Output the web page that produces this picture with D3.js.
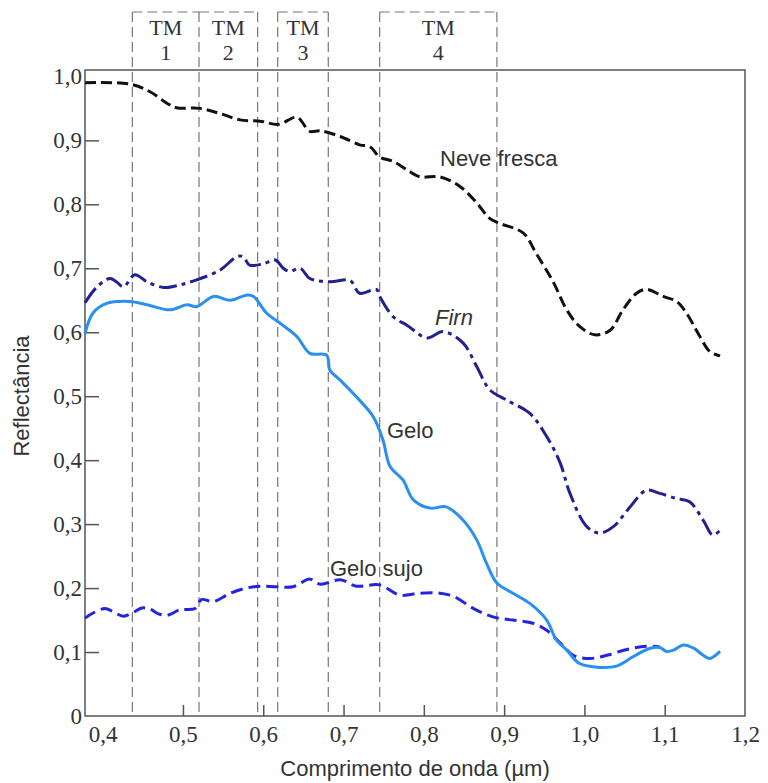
<!DOCTYPE html>
<html>
<head>
<meta charset="utf-8">
<script src="https://cdn.jsdelivr.net/npm/d3@7"></script>
<style>
    body { margin: 0; background: #fff; }
    .tick text { font-family: "Liberation Serif", "DejaVu Serif", serif; font-size: 23px; fill: #333; }
    .lbl { font-family: "Liberation Sans", Arial, sans-serif; font-size: 22px; fill: #333; }
</style>
</head>
<body>
<div id="chart"></div>
<script>
// comprimento de onda (µm) / reflectância
var neveWl = [0.378, 0.434, 0.459, 0.480, 0.492, 0.521, 0.546, 0.571, 0.596, 0.619, 0.642, 0.658, 0.671, 0.696, 0.720, 0.733, 0.745, 0.762, 0.779, 0.795, 0.820, 0.845, 0.866, 0.882, 0.895, 0.924, 0.940, 0.961, 0.978, 0.994, 1.013, 1.032, 1.048, 1.065, 1.077, 1.098, 1.115, 1.127, 1.144, 1.156, 1.169];
var neveRf = [0.990, 0.988, 0.976, 0.958, 0.951, 0.950, 0.942, 0.932, 0.930, 0.925, 0.936, 0.914, 0.915, 0.906, 0.893, 0.890, 0.874, 0.867, 0.854, 0.843, 0.843, 0.828, 0.802, 0.778, 0.770, 0.755, 0.723, 0.679, 0.635, 0.609, 0.596, 0.603, 0.635, 0.661, 0.667, 0.656, 0.648, 0.630, 0.593, 0.570, 0.563];

var firnWl = [0.378, 0.393, 0.409, 0.417, 0.426, 0.440, 0.455, 0.476, 0.496, 0.517, 0.546, 0.567, 0.575, 0.583, 0.600, 0.615, 0.625, 0.633, 0.646, 0.658, 0.683, 0.708, 0.720, 0.741, 0.745, 0.762, 0.779, 0.804, 0.824, 0.849, 0.866, 0.882, 0.903, 0.932, 0.953, 0.970, 0.982, 1.003, 1.019, 1.036, 1.057, 1.077, 1.094, 1.115, 1.131, 1.148, 1.160, 1.171];
var firnRf = [0.646, 0.671, 0.684, 0.679, 0.671, 0.690, 0.679, 0.670, 0.674, 0.682, 0.697, 0.718, 0.718, 0.705, 0.707, 0.713, 0.700, 0.695, 0.700, 0.684, 0.679, 0.681, 0.661, 0.667, 0.656, 0.624, 0.611, 0.591, 0.601, 0.583, 0.546, 0.510, 0.494, 0.473, 0.437, 0.395, 0.348, 0.296, 0.286, 0.296, 0.327, 0.353, 0.348, 0.340, 0.335, 0.306, 0.283, 0.293];

var geloWl = [0.378, 0.388, 0.405, 0.434, 0.455, 0.484, 0.505, 0.517, 0.538, 0.559, 0.579, 0.588, 0.604, 0.621, 0.642, 0.658, 0.679, 0.683, 0.696, 0.716, 0.737, 0.749, 0.758, 0.774, 0.787, 0.808, 0.828, 0.849, 0.866, 0.878, 0.891, 0.911, 0.932, 0.953, 0.965, 0.978, 0.994, 1.019, 1.040, 1.061, 1.082, 1.094, 1.102, 1.111, 1.123, 1.136, 1.148, 1.156, 1.169];
var geloRf = [0.598, 0.630, 0.645, 0.648, 0.643, 0.635, 0.643, 0.640, 0.656, 0.650, 0.658, 0.656, 0.630, 0.614, 0.593, 0.567, 0.564, 0.541, 0.525, 0.499, 0.468, 0.432, 0.390, 0.369, 0.338, 0.325, 0.327, 0.306, 0.275, 0.239, 0.208, 0.192, 0.176, 0.150, 0.119, 0.103, 0.082, 0.076, 0.078, 0.093, 0.106, 0.107, 0.101, 0.103, 0.111, 0.106, 0.095, 0.090, 0.101];

var sujoWl = [0.378, 0.388, 0.403, 0.413, 0.426, 0.438, 0.449, 0.459, 0.471, 0.482, 0.496, 0.515, 0.523, 0.538, 0.559, 0.579, 0.596, 0.617, 0.637, 0.658, 0.671, 0.696, 0.716, 0.745, 0.770, 0.795, 0.820, 0.837, 0.862, 0.886, 0.911, 0.936, 0.953, 0.970, 0.986, 1.007, 1.028, 1.053, 1.077, 1.094];
var sujoRf = [0.153, 0.161, 0.168, 0.163, 0.156, 0.162, 0.169, 0.167, 0.159, 0.158, 0.166, 0.168, 0.182, 0.179, 0.192, 0.200, 0.203, 0.202, 0.202, 0.214, 0.206, 0.213, 0.203, 0.205, 0.189, 0.192, 0.192, 0.187, 0.168, 0.155, 0.150, 0.145, 0.134, 0.114, 0.095, 0.090, 0.095, 0.104, 0.109, 0.108];

// bandas Landsat TM
var tmNames = ["1", "2", "3", "4"];
var tmStart = [0.437, 0.520, 0.618, 0.745];
var tmEnd = [0.520, 0.593, 0.681, 0.891];

var xTicks = [0.4, 0.5, 0.6, 0.7, 0.8, 0.9, 1.0, 1.1, 1.2];
var yTicks = [0, 0.1, 0.2, 0.3, 0.4, 0.5, 0.6, 0.7, 0.8, 0.9, 1.0];

var width = 768, height = 783;
var mLeft = 85, mRight = 745, mTop = 70, mBottom = 716, boxTop = 12;

var svg = d3.select("#chart").append("svg")
    .attr("width", width)
    .attr("height", height);

var x = d3.scaleLinear().domain([0.378, 1.2]).range([mLeft, mRight]);
var y = d3.scaleLinear().domain([0, 1.01]).range([mBottom, mTop]);

function fmt(d) {
    return d === 0 ? "0" : d.toFixed(1).replace(".", ",");
}

// caixas TM (linhas verticais sem repetir a borda comum)
var edges = [];
for (var i = 0; i < tmNames.length; i++) {
    [tmStart[i], tmEnd[i]].forEach(function(e) {
        if (edges.indexOf(e) < 0) edges.push(e);
    });
    var x0 = x(tmStart[i]), x1 = x(tmEnd[i]);
    svg.append("line")
        .attr("x1", x0).attr("x2", x1)
        .attr("y1", boxTop).attr("y2", boxTop)
        .attr("stroke", "#777")
        .attr("stroke-width", 1.2)
        .attr("stroke-dasharray", "10,5");
    var t = svg.append("text")
        .attr("text-anchor", "middle")
        .style("font-family", "'Liberation Serif', serif")
        .style("font-size", "22px")
        .style("fill", "#333");
    t.append("tspan").attr("x", (x0 + x1) / 2).attr("y", 35).text("TM");
    t.append("tspan").attr("x", (x0 + x1) / 2).attr("y", 60).text(tmNames[i]);
}
svg.selectAll(".tmedge")
    .data(edges)
    .enter().append("line")
    .attr("class", "tmedge")
    .attr("x1", function(d) { return x(d); })
    .attr("x2", function(d) { return x(d); })
    .attr("y1", boxTop)
    .attr("y2", mBottom)
    .attr("stroke", "#777")
    .attr("stroke-width", 1.2)
    .attr("stroke-dasharray", "10,5");

// eixos
var xAxis = svg.append("g")
    .attr("transform", "translate(0," + mBottom + ")")
    .call(d3.axisBottom(x).tickValues(xTicks).tickFormat(fmt).tickSizeInner(-11).tickSizeOuter(0).tickPadding(10));
xAxis.selectAll(".tick line")
    .filter(function(d) { return d === 0.4 || d === 1.2; })
    .remove();

var yAxis = svg.append("g")
    .attr("transform", "translate(" + mLeft + ",0)")
    .call(d3.axisLeft(y).tickValues(yTicks).tickFormat(fmt).tickSizeInner(-14).tickSizeOuter(0).tickPadding(3));
yAxis.selectAll(".tick line")
    .filter(function(d) { return d === 0 || d === 1.0; })
    .remove();

svg.selectAll(".domain").remove();
svg.selectAll(".tick line").attr("stroke", "#555").attr("stroke-width", 1.5);

svg.append("rect")
    .attr("x", mLeft)
    .attr("y", mTop)
    .attr("width", mRight - mLeft)
    .attr("height", mBottom - mTop)
    .attr("fill", "none")
    .attr("stroke", "#555")
    .attr("stroke-width", 1.5);

// curvas
var line = d3.line()
    .x(function(d) { return x(d[0]); })
    .y(function(d) { return y(d[1]); })
    .curve(d3.curveCatmullRom.alpha(0.5));

function curve(wl, rf, color, dash) {
    svg.append("path")
        .datum(d3.zip(wl, rf))
        .attr("fill", "none")
        .attr("stroke", color)
        .attr("stroke-width", 3)
        .attr("stroke-dasharray", dash)
        .attr("d", line);
}

curve(neveWl, neveRf, "#111", "11,5");
curve(firnWl, firnRf, "#22228f", "18,5,4,5");
curve(sujoWl, sujoRf, "#2323e0", "12,6");
curve(geloWl, geloRf, "#2b8ff0", null);

// rótulos
svg.append("text").attr("class", "lbl").attr("x", 440).attr("y", 166).text("Neve fresca");
svg.append("text").attr("class", "lbl").attr("x", 435).attr("y", 325).style("font-style", "italic").text("Firn");
svg.append("text").attr("class", "lbl").attr("x", 387).attr("y", 438).text("Gelo");
svg.append("text").attr("class", "lbl").attr("x", 330).attr("y", 576).text("Gelo sujo");

svg.append("text")
    .attr("class", "lbl")
    .attr("transform", "translate(29,396) rotate(-90)")
    .attr("text-anchor", "middle")
    .text("Reflectância");

svg.append("text")
    .attr("class", "lbl")
    .attr("x", 415)
    .attr("y", 776)
    .attr("text-anchor", "middle")
    .text("Comprimento de onda (µm)");
</script>
</body>
</html>
